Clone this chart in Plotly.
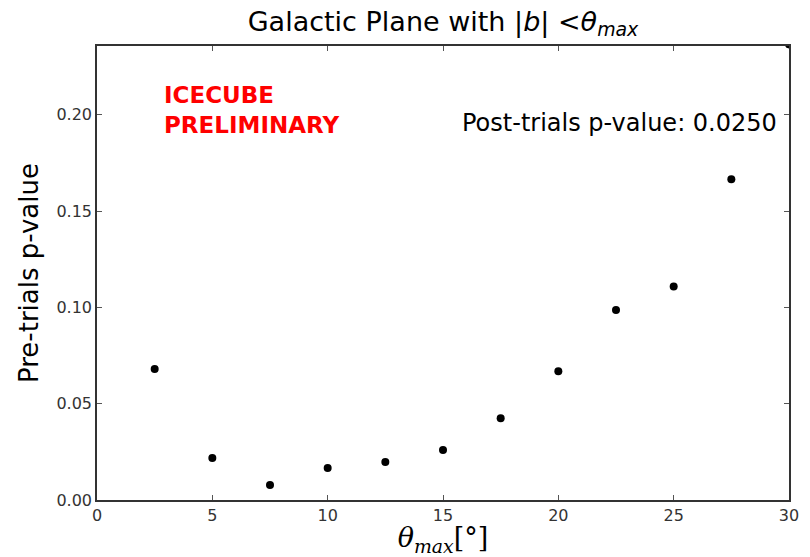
import plotly.graph_objects as go

theta_max = [2.5, 5, 7.5, 10, 12.5, 15, 17.5, 20, 22.5, 25, 27.5, 30]
pre_trials_p = [0.068, 0.0218, 0.0078, 0.0166, 0.0197, 0.0259, 0.0425, 0.0669, 0.0987, 0.1108, 0.1665, 0.2365]
x_ticks = [0, 5, 10, 15, 20, 25, 30]
y_ticks = [0.00, 0.05, 0.10, 0.15, 0.20]

fig = go.Figure()
fig.add_trace(go.Scatter(x=theta_max, y=pre_trials_p, mode="markers",
                         marker=dict(color="black", size=8), cliponaxis=True, showlegend=False))

axis_common = dict(showline=True, linecolor="#333", linewidth=1.5, mirror="ticks",
                   ticks="inside", ticklen=5, tickcolor="#555", showgrid=False, zeroline=False,
                   automargin=False,
                   tickfont=dict(family="DejaVu Sans", size=16, color="#333"))

fig.update_layout(
    width=810, height=557,
    margin=dict(l=97, r=21, t=46, b=57),
    paper_bgcolor="white", plot_bgcolor="white",
    title=dict(text="Galactic Plane with |<i>b</i>| <<i>θ</i><sub><i>max</i></sub>",
               xref="paper", x=0.5, xanchor="center", y=0.962, yanchor="middle",
               font=dict(family="DejaVu Sans", size=27, color="black")),
    xaxis=dict(range=[0, 30], tickvals=x_ticks, ticktext=[str(v) for v in x_ticks],
               title=dict(text="<i>θ</i><sub><i>max</i></sub>[°]", standoff=18,
                          font=dict(family="DejaVu Serif", size=27, color="black")),
               **axis_common),
    yaxis=dict(range=[0, 0.2357], tickvals=y_ticks, ticktext=[f"{v:.2f}" for v in y_ticks],
               title=dict(text="Pre-trials p-value", standoff=10,
                          font=dict(family="DejaVu Sans", size=26, color="black")),
               **axis_common),
)

fig.add_annotation(text="<b>ICECUBE<br>PRELIMINARY</b>", xref="paper", yref="paper",
                   x=(162 - 97) / 692, y=(500 - 80) / 454, xanchor="left", yanchor="top",
                   align="left", showarrow=False,
                   font=dict(family="DejaVu Sans", size=23, color="red"))
fig.add_annotation(text="Post-trials p-value: 0.0250", xref="paper", yref="paper",
                   x=(779 - 97) / 692, y=(500 - 123) / 454, xanchor="right", yanchor="middle",
                   showarrow=False,
                   font=dict(family="DejaVu Sans", size=24, color="black"))

fig.write_html("out.html")
